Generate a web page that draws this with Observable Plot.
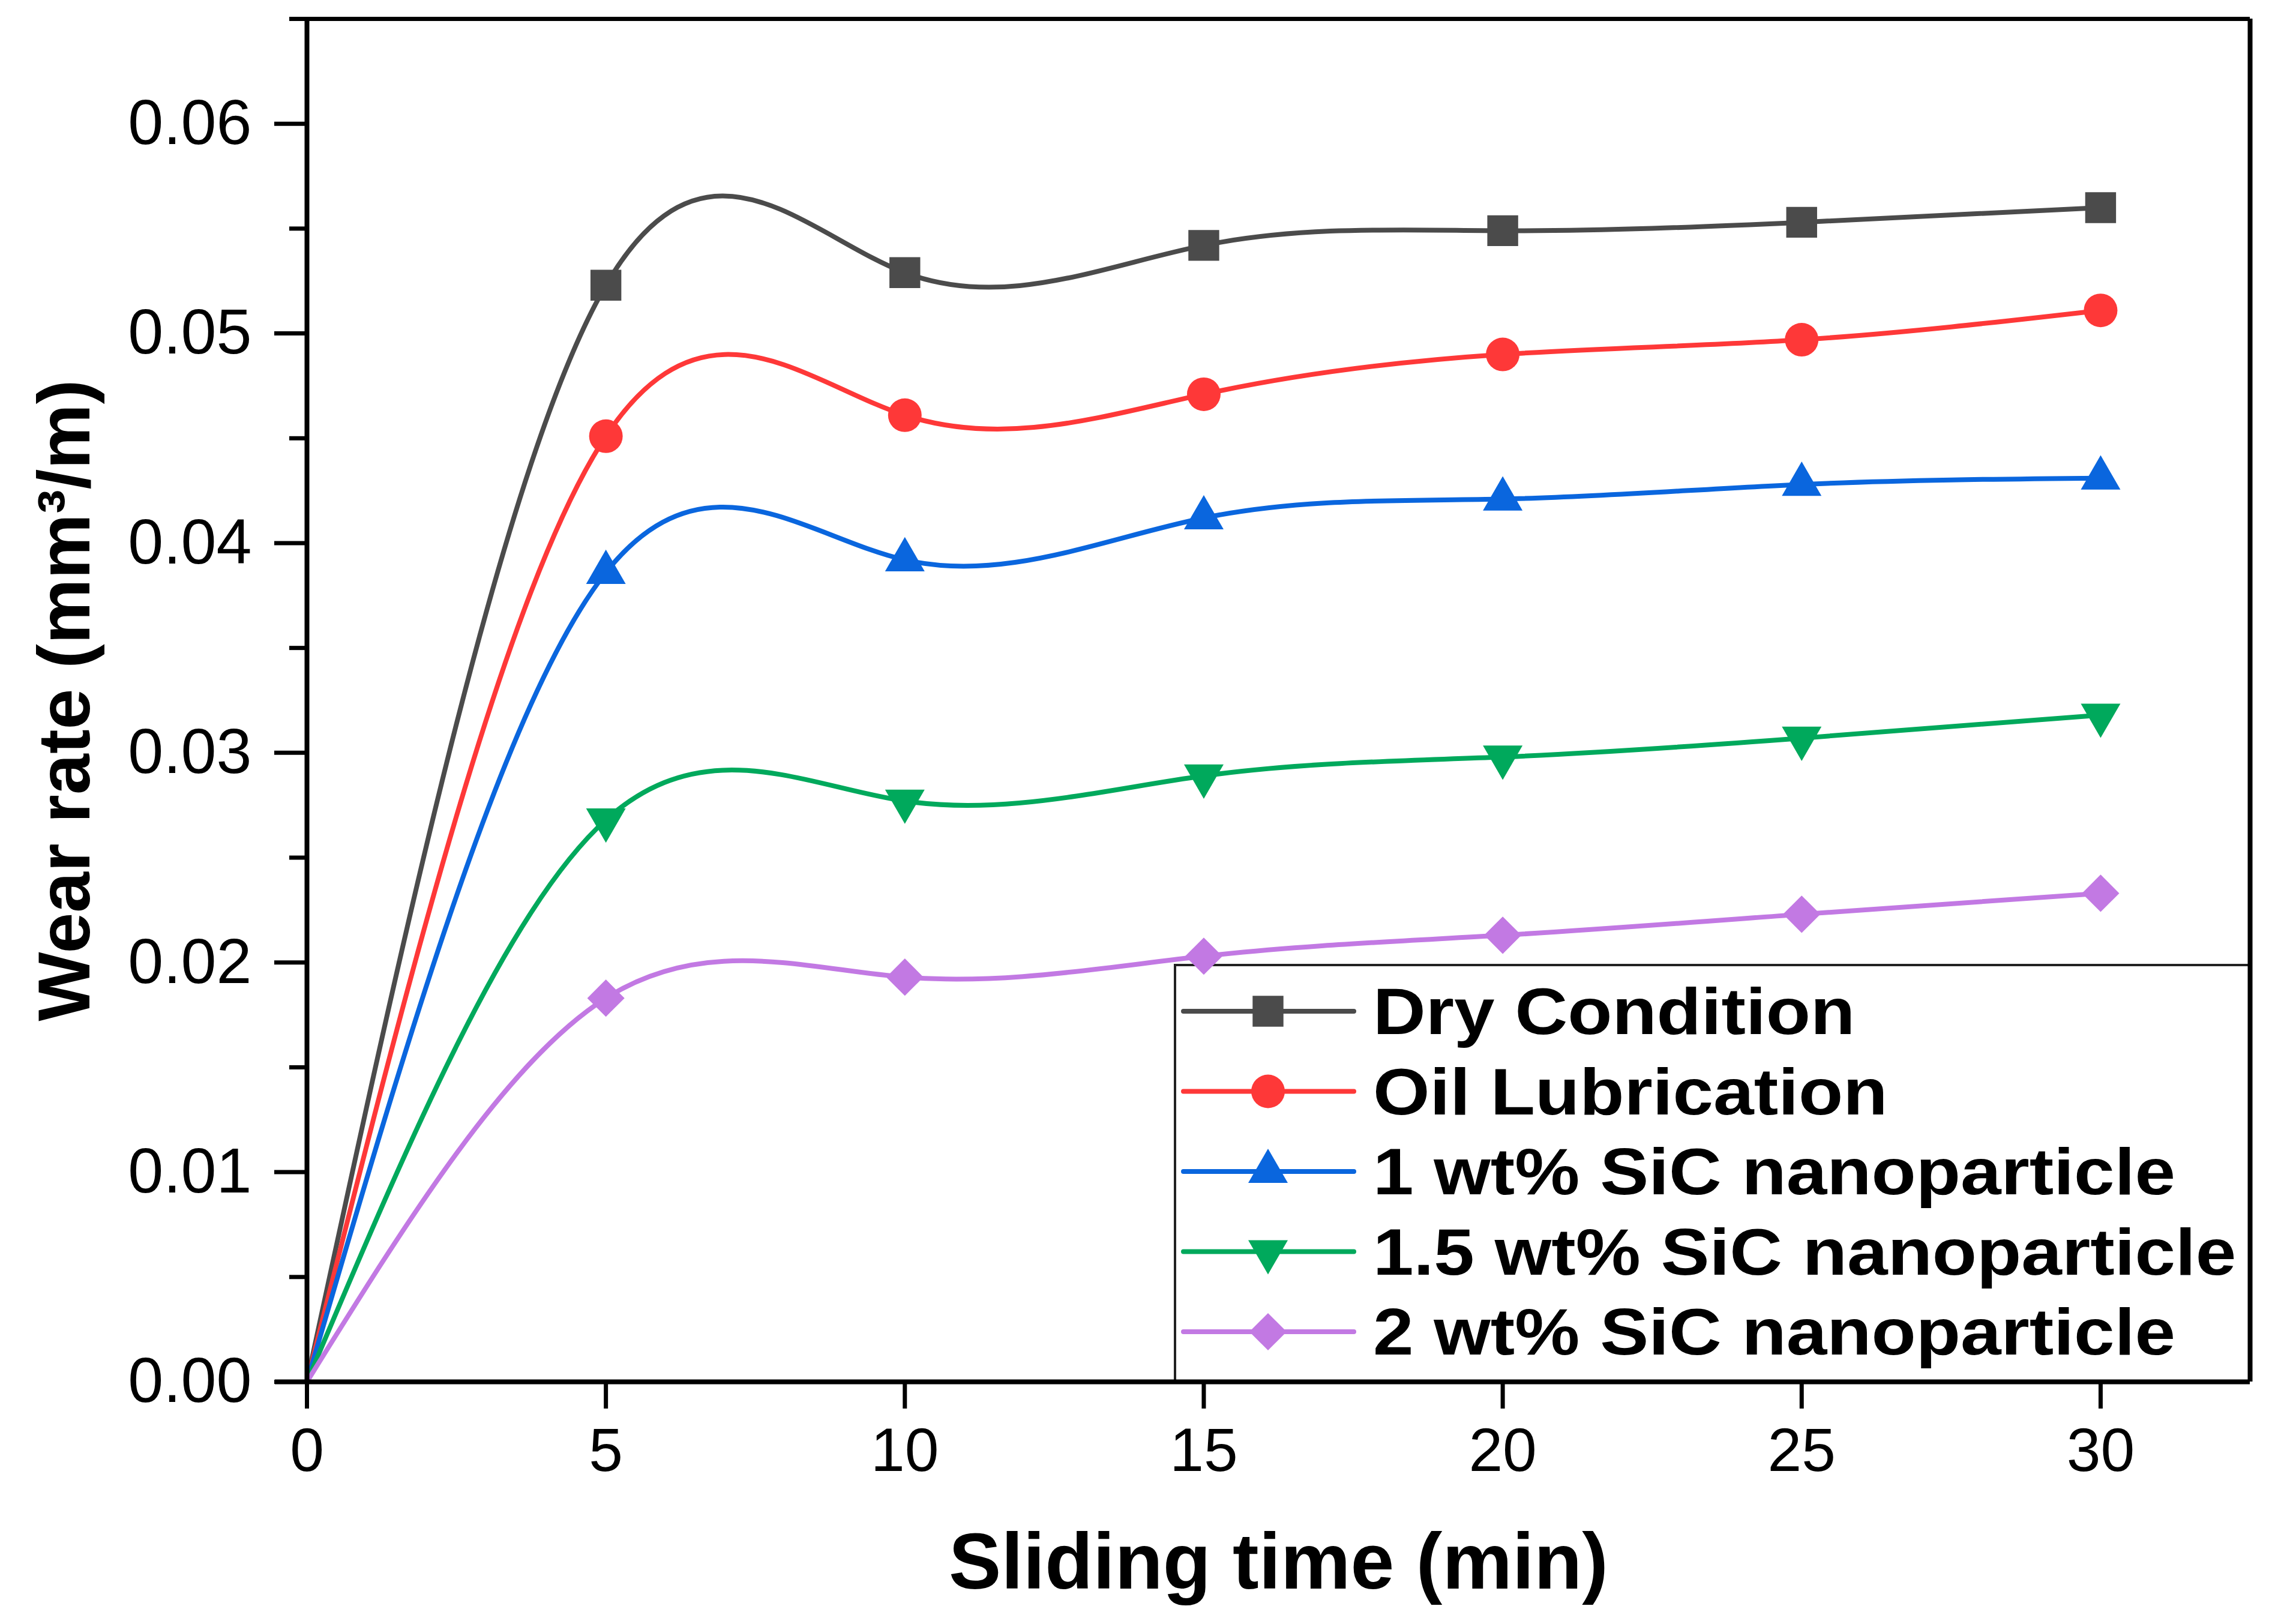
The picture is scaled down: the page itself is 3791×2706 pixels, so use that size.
<!DOCTYPE html>
<html>
<head>
<meta charset="utf-8">
<script src="https://cdn.jsdelivr.net/npm/d3@7"></script>
<script src="https://cdn.jsdelivr.net/npm/@observablehq/plot@0.6"></script>
<style>
  body { margin: 0; background: #fff; }
  #chart { width: 3791px; height: 2706px; }
</style>
</head>
<body>
<div id="chart"></div>
<script>
// valores
const time = [0, 5, 10, 15, 20, 25, 30]
const dryCondition   = [0, 0.0523, 0.0529, 0.0542, 0.0549, 0.0553, 0.0560]
const oilLubrication = [0, 0.0451, 0.0461, 0.0471, 0.0490, 0.0497, 0.0511]
const sic1   = [0, 0.0386, 0.0392, 0.0412, 0.0421, 0.0428, 0.0431]
const sic15  = [0, 0.0268, 0.0277, 0.0289, 0.0298, 0.0307, 0.0318]
const sic2   = [0, 0.0183, 0.0193, 0.0203, 0.0213, 0.0223, 0.0233]

const seriesNames = ["Dry Condition", "Oil Lubrication", "1 wt% SiC nanoparticle", "1.5 wt% SiC nanoparticle", "2 wt% SiC nanoparticle"]
const seriesValues = [dryCondition, oilLubrication, sic1, sic15, sic2]
const seriesColors = ["#4b4b4b", "#fe3838", "#0a66de", "#00a95c", "#c279e3"]

const xTicks = [0, 5, 10, 15, 20, 25, 30]
const yTicks = [0, 0.01, 0.02, 0.03, 0.04, 0.05, 0.06]
const yMinorTicks = [0.005, 0.015, 0.025, 0.035, 0.045, 0.055]
const X_MAX = 32.5
const Y_MAX = 0.065

const xTitle = "Sliding time (min)"
const yTitle = "Wear rate (mm³/m)"
const FONT = "'Liberation Sans', Arial, sans-serif"

// triangulo hacia abajo (Plot no lo trae)
const triangleDown = {
  draw(context, size) {
    const y = -Math.sqrt(size / (Math.sqrt(3) * 3))
    context.moveTo(0, -y * 2)
    context.lineTo(-Math.sqrt(3) * y, y)
    context.lineTo(Math.sqrt(3) * y, y)
    context.closePath()
  }
}
const seriesSymbols = ["square", "circle", "triangle", triangleDown, "diamond2"]
const seriesRadius = [29, 28, 24.5, 24.5, 28]

const rows = seriesNames.flatMap((name, i) =>
  time.map((t, j) => ({time: t, rate: seriesValues[i][j], series: name})))

let chart = Plot.plot({
  width: 3791,
  height: 2706,
  marginLeft: 511,
  marginRight: 42,
  marginTop: 31,
  marginBottom: 404,
  style: {fontFamily: FONT, fontSize: "100px", background: "white", color: "black"},
  x: {domain: [0, X_MAX]},
  y: {domain: [0, Y_MAX]},
  color: {domain: seriesNames, range: seriesColors},
  marks: [
    Plot.line(rows, {x: "time", y: "rate", z: "series", stroke: "series", curve: "natural", strokeWidth: 8}),
    ...seriesNames.map((name, i) => Plot.dot(rows.filter(d => d.series === name && d.time > 0), {
      x: "time", y: "rate", symbol: seriesSymbols[i], r: seriesRadius[i], fill: seriesColors[i], stroke: null
    })),
    // marco del grafico
    Plot.ruleX([0], {strokeWidth: 8}),
    Plot.ruleX([X_MAX], {strokeWidth: 8}),
    Plot.ruleY([Y_MAX], {strokeWidth: 7, insetLeft: -29}),
    Plot.ruleY([0], {strokeWidth: 8, insetLeft: -53}),
    Plot.axisX({ticks: xTicks, tickSize: 45, tickPadding: 31, strokeWidth: 7, fontSize: 102, label: null}),
    Plot.axisY({ticks: yTicks, tickFormat: d3.format(".2f"), tickSize: 54, tickPadding: 38, strokeWidth: 7, fontSize: 106, label: null}),
    Plot.axisY({ticks: yMinorTicks, tickFormat: () => "", tickSize: 29, strokeWidth: 7, label: null}),
    Plot.text([xTitle], {text: d => d, frameAnchor: "bottom", lineAnchor: "middle", textAnchor: "middle", dy: 303, fontSize: 131, fontWeight: "bold"}),
    Plot.text([yTitle], {text: d => d, frameAnchor: "left", lineAnchor: "middle", textAnchor: "middle", dx: -402, rotate: -90, fontSize: 122, fontWeight: "bold"})
  ]
})

// leyenda, dibujada debajo de las marcas
const legend = {left: 1958, top: 1608, right: 3749, bottom: 2302, row0: 1685, rowStep: 133.5}
const symbolTypes = {square: d3.symbolSquare, circle: d3.symbolCircle, triangle: d3.symbolTriangle, diamond2: d3.symbolDiamond2}
const g = d3.select(chart).insert("g", ":first-child").attr("class", "legend")
g.append("path")
  .attr("d", `M${legend.left},${legend.bottom}V${legend.top}H${legend.right}`)
  .attr("fill", "none").attr("stroke", "#222").attr("stroke-width", 4)
seriesNames.forEach((name, i) => {
  const cy = legend.row0 + i * legend.rowStep
  g.append("line").attr("x1", 1972).attr("x2", 2256).attr("y1", cy).attr("y2", cy)
    .attr("stroke", seriesColors[i]).attr("stroke-width", 8).attr("stroke-linecap", "round")
  const type = symbolTypes[seriesSymbols[i]] || seriesSymbols[i]
  g.append("path")
    .attr("d", d3.symbol(type, Math.PI * seriesRadius[i] ** 2)())
    .attr("transform", `translate(2113,${cy})`)
    .attr("fill", seriesColors[i])
  g.append("text")
    .attr("transform", `translate(2288,${cy + 38}) scale(1.115,1)`)
    .attr("text-anchor", "start")
    .attr("font-family", FONT).attr("font-weight", "bold").attr("font-size", 109)
    .attr("fill", "black")
    .text(name)
})

d3.select('#chart').append(() => chart)
</script>
</body>
</html>
